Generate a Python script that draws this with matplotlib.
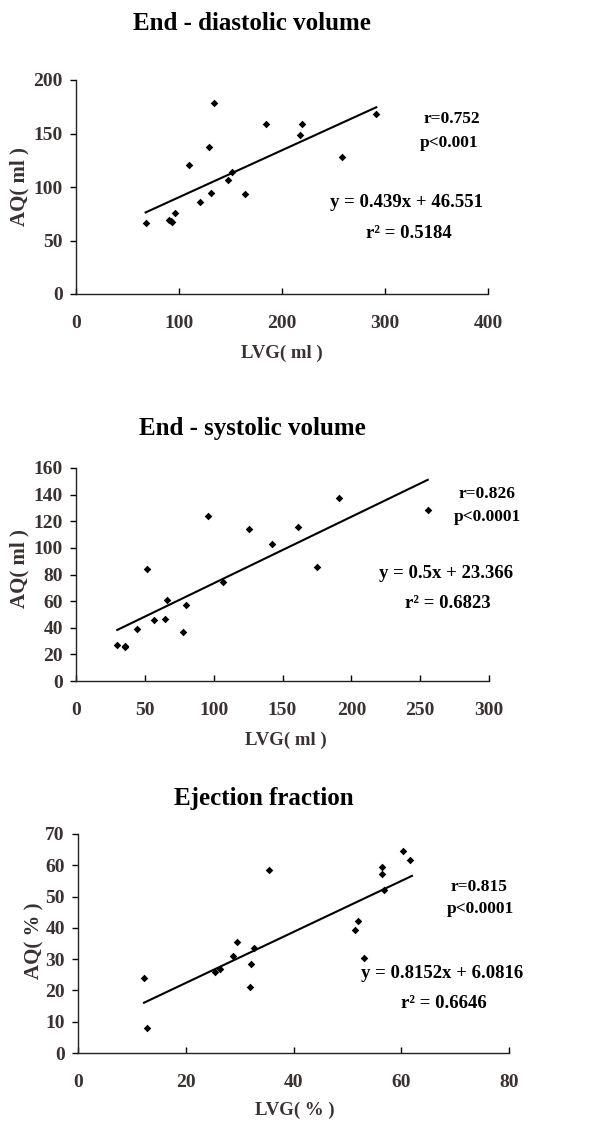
import numpy as np
import matplotlib
matplotlib.use("Agg")
import matplotlib.pyplot as plt

plt.rcParams['font.family'] = ['Liberation Serif', 'DejaVu Serif']
plt.rcParams['font.weight'] = 'bold'

W, H = 599, 1121
INK = '#3b3131'

# End-diastolic volume (ml)
edv_lvg = [67.6, 90.5, 93.0, 92.0, 96.0, 110.0, 120.0, 128.7, 131.0, 134.2,
           148.0, 151.0, 164.0, 184.6, 217.6, 219.6, 258.7, 291.0]
edv_aq = [65.9, 69.4, 67.2, 68.5, 75.9, 120.4, 85.8, 137.8, 94.2, 178.5,
          106.7, 114.2, 93.6, 158.9, 149.0, 159.3, 127.8, 168.6]
edv_fit = (0.439, 46.551)
edv_fit_x = [67.6, 291.5]

# End-systolic volume (ml)
esv_lvg = [30.0, 35.6, 35.8, 44.6, 51.8, 56.9, 64.9, 66.1, 77.7, 79.9,
           96.1, 106.8, 125.7, 142.6, 161.5, 175.0, 190.8, 255.4]
esv_aq = [27.2, 26.5, 25.5, 39.2, 84.0, 45.7, 46.5, 60.5, 36.5, 57.2,
          123.7, 74.5, 114.5, 102.7, 116.0, 85.7, 137.2, 128.2]
esv_fit = (0.5, 23.366)
esv_fit_x = [30.0, 255.5]

# Ejection fraction (%)
ef_lvg = [12.25, 12.75, 25.4, 26.4, 28.8, 29.6, 31.9, 32.2, 32.6, 35.5,
          51.5, 52.0, 53.1, 56.4, 56.5, 56.8, 60.3, 61.6]
ef_aq = [23.9, 8.1, 25.9, 27.0, 31.1, 35.4, 21.2, 28.3, 33.5, 58.4,
         39.2, 42.1, 30.5, 57.1, 59.4, 52.0, 64.6, 61.7]
ef_fit = (0.8152, 6.0816)
ef_fit_x = [12.25, 62.0]

panels = [
    dict(title='End - diastolic volume', x=edv_lvg, y=edv_aq, fit=edv_fit, fit_x=edv_fit_x,
         xlim=(0, 400), xticks=[0, 100, 200, 300, 400], ylim=(0, 200), yticks=[0, 50, 100, 150, 200],
         xlabel='LVG( ml )', ylabel='AQ( ml )',
         stats=['r=0.752', 'p<0.001'], eq=['y = 0.439x + 46.551', 'r² = 0.5184'],
         box=(76, 80, 488, 294), title_xy=(252, 23), xl_xy=(282, 353), yl_xy=(19, 187),
         stats_xy=[(452, 119), (449, 143)], eq_xy=[(407, 203), (409, 233)]),
    dict(title='End - systolic volume', x=esv_lvg, y=esv_aq, fit=esv_fit, fit_x=esv_fit_x,
         xlim=(0, 300), xticks=[0, 50, 100, 150, 200, 250, 300], ylim=(0, 160),
         yticks=[0, 20, 40, 60, 80, 100, 120, 140, 160],
         xlabel='LVG( ml )', ylabel='AQ( ml )',
         stats=['r=0.826', 'p<0.0001'], eq=['y = 0.5x + 23.366', 'r² = 0.6823'],
         box=(76, 468, 489, 681), title_xy=(252, 428), xl_xy=(286, 740), yl_xy=(19, 569),
         stats_xy=[(487, 494), (487, 517)], eq_xy=[(446, 573), (448, 603)]),
    dict(title='Ejection fraction', x=ef_lvg, y=ef_aq, fit=ef_fit, fit_x=ef_fit_x,
         xlim=(0, 80), xticks=[0, 20, 40, 60, 80], ylim=(0, 70),
         yticks=[0, 10, 20, 30, 40, 50, 60, 70],
         xlabel='LVG( % )', ylabel='AQ( % )',
         stats=['r=0.815', 'p<0.0001'], eq=['y = 0.8152x + 6.0816', 'r² = 0.6646'],
         box=(78, 834, 509, 1053), title_xy=(264, 798), xl_xy=(295, 1110), yl_xy=(34, 941),
         stats_xy=[(479, 887), (480, 909)], eq_xy=[(442, 973), (444, 1004)]),
]

fig = plt.figure(figsize=(W / 100, H / 100), dpi=100)


def fx(px):
    return px / W


def fy(py):
    return 1 - py / H


for p in panels:
    x0, y0, x1, y1 = p['box']
    ax = fig.add_axes([fx(x0), fy(y1), (x1 - x0) / W, (y1 - y0) / H])
    ax.scatter(p['x'], p['y'], marker='D', s=15, color='black', linewidths=0, zorder=3)
    slope, icpt = p['fit']
    lx = np.array(p['fit_x'])
    ax.plot(lx, slope * lx + icpt, color='black', lw=1.5)

    ax.set_xlim(*p['xlim'])
    ax.set_ylim(*p['ylim'])
    ax.set_xticks(p['xticks'])
    ax.set_yticks(p['yticks'])
    for s in ['top', 'right']:
        ax.spines[s].set_visible(False)
    for s in ['left', 'bottom']:
        ax.spines[s].set_linewidth(1.0)
        ax.spines[s].set_color('#222222')
    ax.tick_params(axis='x', direction='in', length=4.5, width=1.0, pad=15,
                   labelsize=14, labelcolor=INK)
    ax.tick_params(axis='y', direction='out', length=4.5, width=1.0, pad=5,
                   labelsize=14, labelcolor=INK)
    for lab in ax.get_xticklabels() + ax.get_yticklabels():
        lab.set_fontweight('bold')

    fig.text(fx(p['title_xy'][0]), fy(p['title_xy'][1]), p['title'], ha='center', va='center',
             fontsize=18, fontweight='bold', color='black')
    fig.text(fx(p['xl_xy'][0]), fy(p['xl_xy'][1]), p['xlabel'], ha='center', va='center',
             fontsize=13.5, fontweight='bold', color=INK)
    fig.text(fx(p['yl_xy'][0]), fy(p['yl_xy'][1]), p['ylabel'], ha='center', va='center',
             rotation=90, fontsize=15, fontweight='bold', color=INK)
    for txt, (tx, ty) in zip(p['stats'], p['stats_xy']):
        fig.text(fx(tx), fy(ty), txt, ha='center', va='center', fontsize=12.5,
                 fontweight='bold', color='black')
    for txt, (tx, ty) in zip(p['eq'], p['eq_xy']):
        fig.text(fx(tx), fy(ty), txt, ha='center', va='center', fontsize=13.5,
                 fontweight='bold', color='black')

fig.savefig('out.png', dpi=100)
